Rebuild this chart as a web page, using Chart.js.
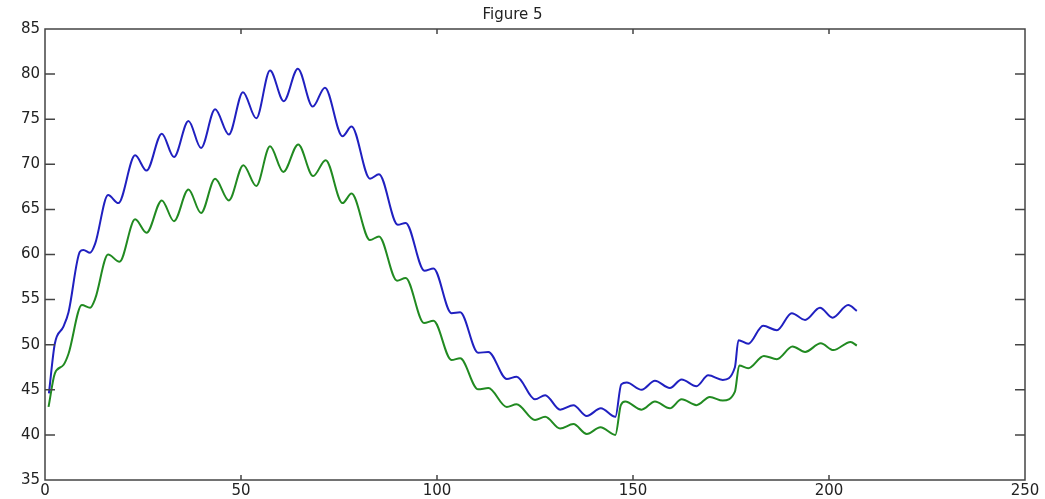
<!DOCTYPE html>
<html>
<head>
<meta charset="utf-8">
<title>Figure 5</title>
<script src="https://cdn.jsdelivr.net/npm/chart.js@4"></script>
<style>
  body { margin: 0; background: #fff; }
  canvas { display: block; }
</style>
</head>
<body>
<canvas id="fig5" width="1045" height="499"></canvas>
<script>
// values (peaks, troughs and a few points between)
const blueX = [1, 2.5, 4.7, 6, 8.9, 9.8, 11.5, 12.8, 16.1, 18.7, 23, 25.9, 29.8, 32.9, 36.6, 39.8,
  43.4, 46.9, 50.5, 53.9, 57.4, 60.9, 64.5, 68.3, 71.4, 75.9, 78.2, 82.9, 85.2, 90, 92, 96.8,
  99.1, 103.7, 105.9, 110.5, 113.1, 117.8, 120.3, 125, 127.6, 131.4, 134.8, 138.2, 141.8, 145.5,
  147, 148.4, 152.2, 155.6, 159.4, 162.4, 166.2, 169.2, 172.9, 176, 176.9, 179.4, 183.2, 186.7,
  190.5, 193.9, 197.7, 200.9, 204.9, 207.1];
const blueY = [44.6, 50.1, 52.0, 53.6, 60.3, 60.5, 60.2, 61.2, 66.6, 65.7, 71.0, 69.3, 73.4, 70.8, 74.8, 71.8,
  76.1, 73.3, 78.0, 75.1, 80.4, 77.0, 80.6, 76.4, 78.5, 73.1, 74.2, 68.4, 68.9, 63.3, 63.5, 58.2,
  58.45, 53.5, 53.6, 49.1, 49.2, 46.2, 46.45, 43.95, 44.4, 42.8, 43.3, 42.1, 42.95, 42.0,
  45.6, 45.8, 45.0, 46.0, 45.2, 46.15, 45.4, 46.6, 46.1, 47.5, 50.5, 50.1, 52.1, 51.6,
  53.5, 52.75, 54.1, 53.0, 54.4, 53.75];

const greenX = [0.9, 2.5, 4.7, 6, 9.4, 11.5, 12.8, 16.1, 19, 23, 25.9, 29.8, 32.9, 36.6, 39.8,
  43.4, 46.9, 50.6, 53.9, 57.4, 60.8, 64.6, 68.4, 71.6, 75.9, 78.2, 82.9, 85.2, 89.8, 92, 96.7,
  99.1, 103.7, 105.9, 110.5, 113.1, 117.8, 120.3, 125, 127.6, 131.4, 134.8, 138.2, 141.7, 145.5,
  146.9, 148, 152.2, 155.6, 159.4, 162.4, 166.2, 169.6, 172.9, 176, 177.1, 179.4, 183.4, 186.7,
  190.7, 193.9, 197.9, 201.1, 205.5, 207.1];
const greenY = [43.1, 46.8, 47.75, 49.0, 54.4, 54.1, 55.1, 60.0, 59.2, 63.9, 62.4, 66.0, 63.7, 67.2, 64.6,
  68.4, 66.0, 69.9, 67.6, 72.0, 69.15, 72.2, 68.7, 70.45, 65.7, 66.75, 61.6, 62.0, 57.1, 57.4, 52.4,
  52.65, 48.3, 48.5, 45.05, 45.2, 43.1, 43.4, 41.65, 42.0, 40.7, 41.2, 40.1, 40.85, 40.0,
  43.3, 43.7, 42.8, 43.7, 42.95, 43.95, 43.3, 44.2, 43.8, 44.8, 47.7, 47.4, 48.75, 48.4,
  49.8, 49.2, 50.15, 49.4, 50.3, 49.9];

const xTicks = [0, 50, 100, 150, 200, 250];
const yTicks = [35, 40, 45, 50, 55, 60, 65, 70, 75, 80, 85];

const toPoints = (xs, ys) => xs.map((x, i) => ({ x: x, y: ys[i] }));

// matlab-ish box with inward ticks on all four sides
const boxPlugin = {
    id: 'matlabBox',
    afterDraw(chart) {
        const { ctx, chartArea: a, scales } = chart;
        ctx.save();
        ctx.strokeStyle = '#444';
        ctx.lineWidth = 1.5;
        ctx.strokeRect(a.left, a.top, a.right - a.left, a.bottom - a.top);
        ctx.beginPath();
        xTicks.slice(1, -1).forEach(v => {
            const px = scales.x.getPixelForValue(v);
            ctx.moveTo(px, a.bottom); ctx.lineTo(px, a.bottom - 5);
            ctx.moveTo(px, a.top); ctx.lineTo(px, a.top + 5);
        });
        yTicks.slice(1, -1).forEach(v => {
            const py = scales.y.getPixelForValue(v);
            ctx.moveTo(a.left, py); ctx.lineTo(a.left + 10, py);
            ctx.moveTo(a.right, py); ctx.lineTo(a.right - 10, py);
        });
        ctx.stroke();
        ctx.restore();
    }
};

const tickFont = { family: '"DejaVu Sans", "Liberation Sans", sans-serif', size: 15 };

new Chart(document.getElementById('fig5').getContext('2d'), {
    type: 'line',
    data: {
        datasets: [{
            data: toPoints(blueX, blueY),
            borderColor: '#2020c0',
            borderWidth: 2,
            pointRadius: 0,
            cubicInterpolationMode: 'monotone',
            fill: false
        }, {
            data: toPoints(greenX, greenY),
            borderColor: '#218a21',
            borderWidth: 2,
            pointRadius: 0,
            cubicInterpolationMode: 'monotone',
            fill: false
        }]
    },
    options: {
        responsive: false,
        animation: false,
        layout: { padding: { left: 0, right: 20, top: 0, bottom: 0 } },
        plugins: {
            legend: { display: false },
            tooltip: { enabled: false },
            title: {
                display: true,
                text: 'Figure 5',
                color: '#222',
                font: { family: tickFont.family, size: 15, weight: 'normal' },
                padding: { top: 6, bottom: 5 }
            }
        },
        scales: {
            x: {
                type: 'linear',
                min: 0,
                max: 250,
                border: { display: false },
                grid: { display: false, drawTicks: false },
                ticks: { stepSize: 50, color: '#222', font: tickFont, padding: 2, maxRotation: 0 },
                afterFit(scale) { scale.height = 19; }
            },
            y: {
                min: 35,
                max: 85,
                border: { display: false },
                grid: { display: false, drawTicks: false },
                ticks: { stepSize: 5, color: '#222', font: tickFont, padding: 5 },
                afterFit(scale) { scale.width = 45; }
            }
        }
    },
    plugins: [boxPlugin]
});
</script>
</body>
</html>
